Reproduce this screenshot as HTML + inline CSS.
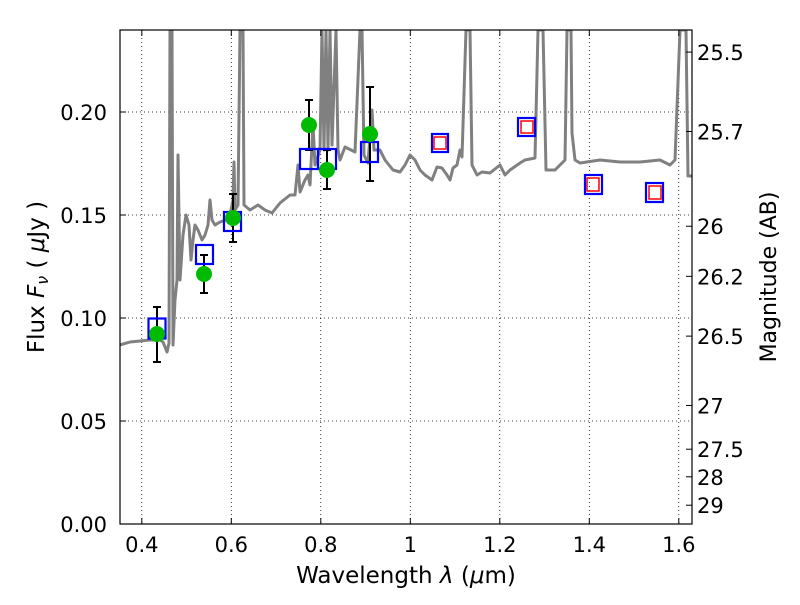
<!DOCTYPE html>
<html><head><meta charset="utf-8"><style>
body{margin:0;background:#fff}
svg text{font-family:"DejaVu Sans","Liberation Sans",sans-serif;fill:#000}
</style></head><body>
<svg id="s" width="800" height="600" xmlns="http://www.w3.org/2000/svg">
<rect width="800" height="600" fill="#fff"/>
<g id="grid" stroke="#000" stroke-width="0.8" stroke-dasharray="1,3"></g>
<clipPath id="c"><rect x="120" y="30" width="572" height="494"/></clipPath>
<polyline clip-path="url(#c)" fill="none" stroke="#808080" stroke-width="3" stroke-linejoin="round" points="120,345 130,342 140,341 150,340 160,340 163,342 167,352 169,343 170,30 172,30 173,345 175,300 177,280 178,155 180,280 183,235 186,215 189,225 191,260 193,240 195,225 198,230 202,240 205,235 208,225 210,200 212,220 215,225 220,222 226,220 230,215 233,200 234,162 235,210 238,205 240,30 243,30 244,205 250,210 258,205 265,210 272,213 280,203 290,195 295,195 298,165 300,192 305,180 308,175 310,185 313,125 315,165 320,150 322,30 324,150 326,30 328,150 330,30 332,145 336,30 338,150 340,160 345,147 355,152 360,30 362,30 364,155 368,163 372,110 374,150 380,150 385,160 393,170 400,172 405,165 410,155 415,160 420,170 425,175 432,180 437,167 442,168 447,175 450,180 453,168 457,165 460,150 462,157 466,30 470,30 472,165 477,175 482,172 490,173 500,165 505,175 510,170 520,163 525,160 535,158 538,30 543,30 546,170 555,170 560,165 565,160 567,30 571,30 572,133 575,160 580,163 600,160 620,162 640,162 660,160 670,165 675,160 680,30 686,30 688,176 692,176"/>
<g stroke="#000" stroke-width="2">
<line x1="157" y1="307" x2="157" y2="362"/><line x1="153" y1="307" x2="161" y2="307"/><line x1="153" y1="362" x2="161" y2="362"/>
<line x1="204" y1="255" x2="204" y2="293"/><line x1="200" y1="255" x2="208" y2="255"/><line x1="200" y1="293" x2="208" y2="293"/>
<line x1="233" y1="194" x2="233" y2="242"/><line x1="229" y1="194" x2="237" y2="194"/><line x1="229" y1="242" x2="237" y2="242"/>
<line x1="309" y1="100" x2="309" y2="150"/><line x1="305" y1="100" x2="313" y2="100"/><line x1="305" y1="150" x2="313" y2="150"/>
<line x1="327" y1="150" x2="327" y2="189"/><line x1="323" y1="150" x2="331" y2="150"/><line x1="323" y1="189" x2="331" y2="189"/>
<line x1="370" y1="87" x2="370" y2="181"/><line x1="366" y1="87" x2="374" y2="87"/><line x1="366" y1="181" x2="374" y2="181"/>
</g>
<g fill="none" stroke="#0000ff" stroke-width="2.2">
<rect x="148.5" y="318.5" width="17" height="20"/>
<rect x="196" y="245" width="17" height="19"/>
<rect x="224" y="212" width="17" height="19"/>
<rect x="300" y="149" width="18" height="20"/>
<rect x="318" y="149" width="18" height="20"/>
<rect x="361" y="142" width="17" height="20"/>
<rect x="432" y="134" width="16" height="18"/>
<rect x="518" y="118" width="17" height="18"/>
<rect x="585" y="175" width="17" height="19"/>
<rect x="646" y="183" width="17" height="19"/>
</g>
<g fill="none" stroke="#ff0000" stroke-width="1.5">
<rect x="434" y="137" width="12" height="12"/>
<rect x="521" y="121" width="12" height="12"/>
<rect x="587" y="178" width="12" height="13"/>
<rect x="649" y="186" width="12" height="13"/>
</g>
<g fill="#00bb00">
<circle cx="157" cy="334" r="8"/><circle cx="204" cy="274" r="8"/><circle cx="233" cy="218" r="8"/>
<circle cx="309" cy="125" r="8"/><circle cx="327" cy="170" r="8"/><circle cx="370" cy="134" r="8"/>
</g>
<rect x="120" y="30" width="572" height="494" fill="none" stroke="#000" stroke-width="1.2"/>
<g id="ticks" stroke="#000" stroke-width="1"></g>
<g id="labels" style="font-size:21px"></g>
<text x="406" y="583" style="font-size:23px" text-anchor="middle">Wavelength  <tspan font-style="italic">λ</tspan> (<tspan font-style="italic">μ</tspan>m)</text>
<text transform="translate(44,277) rotate(-90)" style="font-size:23px" text-anchor="middle">Flux  <tspan font-style="italic">F</tspan><tspan font-style="italic" font-size="16" dy="4">ν</tspan><tspan dy="-4">  ( </tspan><tspan font-style="italic">μ</tspan>Jy )</text>
<text transform="translate(776,277) rotate(-90)" style="font-size:22px" text-anchor="middle">Magnitude (AB)</text>
</svg>
<script>
var NS="http://www.w3.org/2000/svg";
function el(p,t,a,txt){var e=document.createElementNS(NS,t);for(var k in a)e.setAttribute(k,a[k]);if(txt!=null)e.textContent=txt;document.getElementById(p).appendChild(e);}
function px(l){return 141.8+(l-0.4)*447.5;}
function py(f){return 524-f*2060;}
var xs=[[0.4,"0.4"],[0.6,"0.6"],[0.8,"0.8"],[1.0,"1"],[1.2,"1.2"],[1.4,"1.4"],[1.6,"1.6"]];
xs.forEach(function(v){var x=px(v[0]);el("grid","line",{x1:x,y1:30,x2:x,y2:524});
el("ticks","line",{x1:x,y1:524,x2:x,y2:518});el("ticks","line",{x1:x,y1:30,x2:x,y2:36});
el("labels","text",{x:x,y:552,"text-anchor":"middle"},v[1]);});
[0,0.05,0.1,0.15,0.2].forEach(function(f){var y=py(f);el("grid","line",{x1:120,y1:y,x2:692,y2:y});
el("ticks","line",{x1:120,y1:y,x2:126,y2:y});
el("labels","text",{x:107,y:y+8,"text-anchor":"end"},f.toFixed(2));});
[["25.5",25.5],["25.7",25.7],["26",26],["26.2",26.2],["26.5",26.5],["27",27],["27.5",27.5],["28",28],["29",29]].forEach(function(m){
var f=Math.pow(10,(23.9-m[1])/2.5);var y=py(f);
el("ticks","line",{x1:692,y1:y,x2:686,y2:y});
el("labels","text",{x:697,y:y+8,"text-anchor":"start"},m[0]);});
</script>
</body></html>
